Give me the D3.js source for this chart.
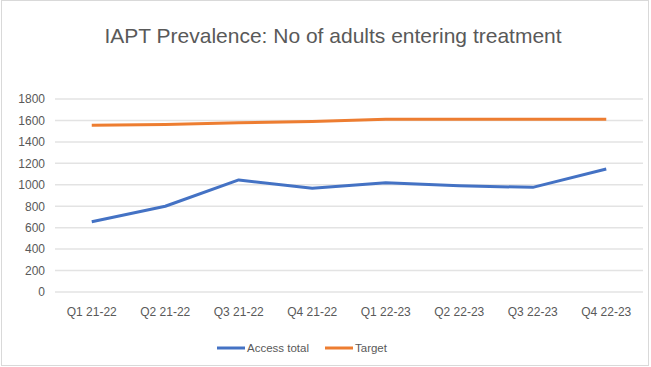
<!DOCTYPE html>
<html>
<head>
<meta charset="utf-8">
<script src="https://cdn.jsdelivr.net/npm/d3@7"></script>
<style>
  body { margin: 0; background: #fff; }
  text { font-family: "Liberation Sans", Arial, sans-serif; }
</style>
</head>
<body>
<div id="chart"></div>
<script>
// Chart data
var quarters = ["Q1 21-22", "Q2 21-22", "Q3 21-22", "Q4 21-22", "Q1 22-23", "Q2 22-23", "Q3 22-23", "Q4 22-23"];
var accessTotal = [655, 800, 1045, 967, 1018, 990, 976, 1147];
var target = [1555, 1562, 1578, 1590, 1612, 1612, 1612, 1612];
var yTicks = [0, 200, 400, 600, 800, 1000, 1200, 1400, 1600, 1800];

var svgWidth = 651;
var svgHeight = 367;

var margin = { top: 99, right: 8, bottom: 75, left: 55 };
var width = 643 - margin.left;
var height = 292 - margin.top;

var svg = d3.select("#chart")
  .append("svg")
  .attr("width", svgWidth)
  .attr("height", svgHeight);

// outer border
svg.append("rect")
  .attr("x", 1.5).attr("y", 0.5)
  .attr("width", svgWidth - 4).attr("height", svgHeight - 2)
  .attr("fill", "none")
  .attr("stroke", "#d9d9d9");

svg.append("text")
  .attr("x", 333)
  .attr("y", 43)
  .attr("text-anchor", "middle")
  .attr("font-size", "21px")
  .attr("fill", "#595959")
  .text("IAPT Prevalence: No of adults entering treatment");

var chartGroup = svg.append("g")
  .attr("transform", `translate(${margin.left}, ${margin.top})`);

var xScale = d3.scaleBand()
  .domain(quarters)
  .range([0, width]);

var yScale = d3.scaleLinear()
  .domain([0, 1800])
  .range([height, 0]);

// gridlines
chartGroup.append("g")
  .selectAll("line")
  .data(yTicks)
  .enter()
  .append("line")
  .attr("x1", 0)
  .attr("x2", width)
  .attr("y1", d => yScale(d))
  .attr("y2", d => yScale(d))
  .attr("stroke", "#e3e3e3")
  .attr("stroke-width", 1.5);

// y axis labels
var leftAxis = d3.axisLeft(yScale).tickValues(yTicks).tickFormat(d3.format("d")).tickSize(0).tickPadding(10);
var yAxis = chartGroup.append("g").call(leftAxis);
yAxis.select(".domain").remove();
yAxis.selectAll("text")
  .attr("font-size", "12px")
  .attr("fill", "#595959")
  .style("font-family", "Liberation Sans, Arial, sans-serif");

// x axis labels
var bottomAxis = d3.axisBottom(xScale).tickSize(0).tickPadding(15);
var xAxis = chartGroup.append("g")
  .attr("transform", `translate(0, ${height})`)
  .call(bottomAxis);
xAxis.select(".domain").remove();
xAxis.selectAll("text")
  .attr("font-size", "12px")
  .attr("fill", "#595959")
  .style("font-family", "Liberation Sans, Arial, sans-serif");

var line = d3.line()
  .x((d, i) => xScale(quarters[i]) + xScale.bandwidth() / 2)
  .y(d => yScale(d));

chartGroup.append("path")
  .datum(target)
  .attr("fill", "none")
  .attr("stroke", "#ed7d31")
  .attr("stroke-width", 3)
  .attr("stroke-linejoin", "round")
  .attr("d", line);

chartGroup.append("path")
  .datum(accessTotal)
  .attr("fill", "none")
  .attr("stroke", "#4472c4")
  .attr("stroke-width", 3)
  .attr("stroke-linejoin", "round")
  .attr("d", line);

// legend
var legend = [
  { name: "Access total", color: "#4472c4", x: 217 },
  { name: "Target", color: "#ed7d31", x: 325 }
];
var lg = svg.append("g").selectAll("g").data(legend).enter().append("g")
  .attr("transform", d => `translate(${d.x}, 348)`);
lg.append("line")
  .attr("x1", 0).attr("x2", 28)
  .attr("stroke", d => d.color)
  .attr("stroke-width", 3);
lg.append("text")
  .attr("x", 30)
  .attr("y", 4)
  .attr("font-size", "11.5px")
  .attr("fill", "#595959")
  .text(d => d.name);
</script>
</body>
</html>
